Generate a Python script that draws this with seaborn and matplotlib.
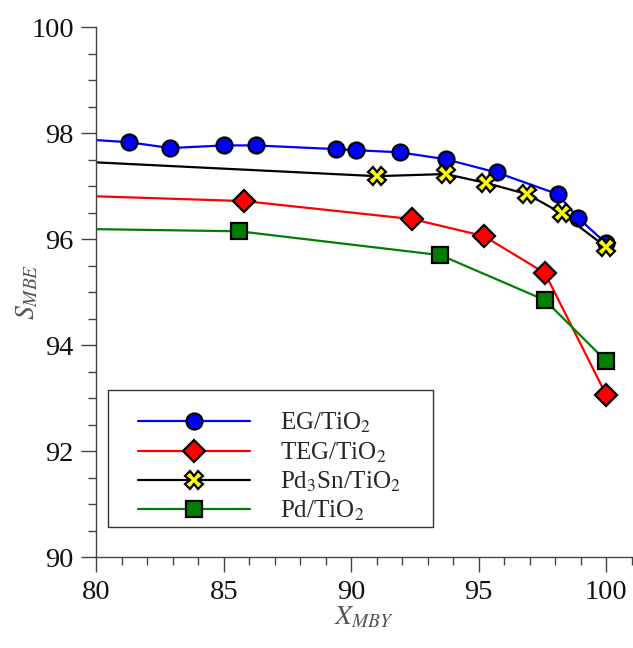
import matplotlib
matplotlib.use("Agg")
import matplotlib.pyplot as plt
from matplotlib.patches import Rectangle
from matplotlib.ticker import MultipleLocator
import seaborn as sns

# values; the first point of each curve (x=80) has no marker
eg_x = [80.0, 81.3, 82.9, 85.0, 86.25, 89.4, 90.2, 91.9, 93.7, 95.7, 98.1, 98.9, 100.0]
eg_y = [97.87, 97.83, 97.72, 97.77, 97.77, 97.70, 97.68, 97.64, 97.51, 97.26, 96.85, 96.40, 95.92]

teg_x = [80.0, 85.8, 92.4, 95.2, 97.6, 100.0]
teg_y = [96.81, 96.72, 96.38, 96.06, 95.36, 93.06]

pd3sn_x = [80.0, 91.0, 93.7, 95.3, 96.9, 98.25, 100.0]
pd3sn_y = [97.45, 97.19, 97.23, 97.06, 96.85, 96.49, 95.85]

pd_x = [80.0, 85.6, 93.5, 97.6, 100.0]
pd_y = [96.19, 96.15, 95.70, 94.85, 93.70]

labels = ["EG/TiO$_2$", "TEG/TiO$_2$", "Pd$_3$Sn/TiO$_2$", "Pd/TiO$_2$"]

sns.set_style("ticks")
plt.rcParams["font.family"] = ["Liberation Serif", "DejaVu Serif"]
plt.rcParams["mathtext.fontset"] = "stix"

fig = plt.figure(figsize=(6.33, 6.48), dpi=100)
ax = fig.add_axes([0.152, 0.140, 0.846, 0.818])

series = [
    (eg_x, eg_y, "#0000ff", "o", "#0000ff", 11.5),
    (teg_x, teg_y, "#ff0000", "D", "#ff0000", 11),
    (pd3sn_x, pd3sn_y, "black", "X", "#ffff00", 12.5),
    (pd_x, pd_y, "#008000", "s", "#008000", 11),
]

for (x, y, col, mk, face, ms), lab in zip(series, labels):
    sns.lineplot(x=x, y=y, ax=ax, color=col, label=lab, linewidth=1.6,
                 marker=mk, markersize=ms, markerfacecolor=face,
                 markeredgecolor="black", markeredgewidth=1.6,
                 markevery=list(range(1, len(x))), errorbar=None)

ax.set_xlim(80, 101)
ax.set_ylim(90, 100)
ax.xaxis.set_major_locator(MultipleLocator(5))
ax.xaxis.set_minor_locator(MultipleLocator(1))
ax.yaxis.set_major_locator(MultipleLocator(2))
ax.yaxis.set_minor_locator(MultipleLocator(0.5))
ax.tick_params(which="major", direction="out", length=11, width=1, labelsize=20.5,
               pad=5, color="#444444", labelcolor="#111111")
ax.tick_params(which="minor", direction="out", length=6, width=1, color="#444444")
sns.despine(ax=ax)
for s in ["left", "bottom"]:
    ax.spines[s].set_color("#444444")
    ax.spines[s].set_linewidth(1)

ax.set_xlabel("$X_{MBY}$", fontsize=20, color="#555555", labelpad=0)
ax.set_ylabel("$S_{MBE}$", fontsize=20, color="#555555")
ax.yaxis.set_label_coords(-0.105, 0.5)

# legend frame is drawn as its own box so the entries can sit off-centre as in the reference
ax.add_patch(Rectangle((0.022, 0.057), 0.607, 0.258, transform=ax.transAxes,
                       facecolor="white", edgecolor="#333333", linewidth=1, zorder=4))
leg = ax.legend(loc="upper left", bbox_to_anchor=(0.078, 0.276), frameon=False,
                borderpad=0, borderaxespad=0, fontsize=18, handlelength=4.5,
                labelspacing=0.2, handletextpad=1.2)
leg.set_zorder(5)

fig.savefig("out.png", dpi=100)
